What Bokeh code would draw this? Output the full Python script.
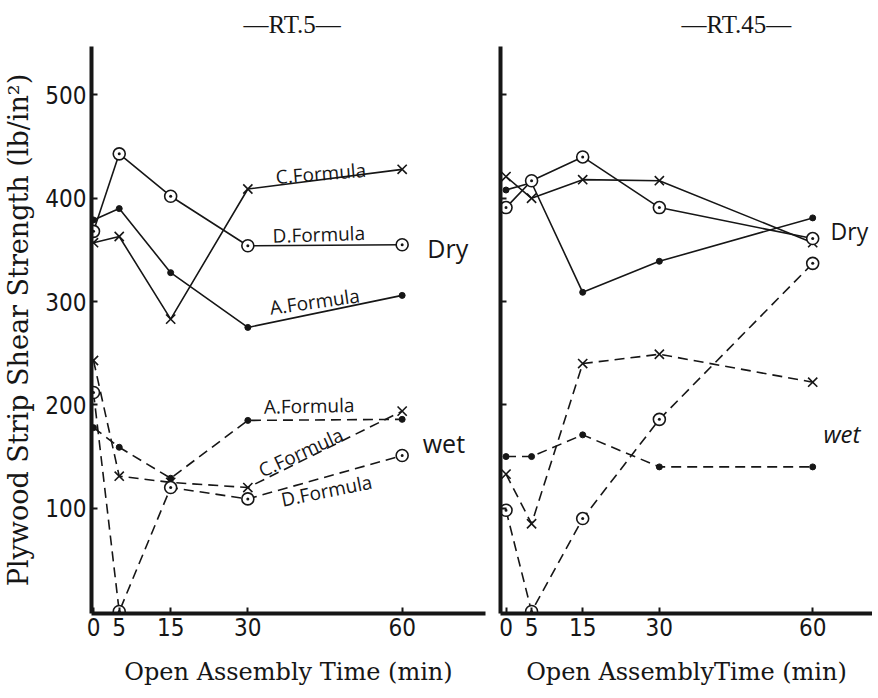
from bokeh.plotting import figure
from bokeh.layouts import row
from bokeh.models import FixedTicker, ColumnDataSource
from bokeh.core.properties import value
from bokeh.embed import file_html
from bokeh.resources import INLINE

# ---------------- data ----------------
times = [0, 5, 15, 30, 60]
x_ticks = [0, 5, 15, 30, 60]
y_ticks = [100, 200, 300, 400, 500]

# RT.5 panel
rt5_dry_A = [379, 390, 328, 275, 306]
rt5_dry_C = [357, 363, 283, 409, 428]
rt5_dry_D = [368, 443, 402, 354, 355]
rt5_wet_A = [178, 159, 129, 185, 186]
rt5_wet_C = [243, 131, 125, 120, 194]
rt5_wet_D = [212, 0, 120, 109, 151]

# RT.45 panel
rt45_dry_A = [408, 415, 309, 339, 381]
rt45_dry_C = [421, 400, 418, 417, 357]
rt45_dry_D = [391, 417, 440, 391, 361]
rt45_wet_A = [150, 150, 171, 140, 140]
rt45_wet_C = [133, 85, 240, 249, 222]
rt45_wet_D = [98, 0, 90, 186, 337]

INK = "#161616"
TICK_FONT = "Liberation Sans Narrow, DejaVu Sans Condensed, sans-serif"
SERIF = "DejaVu Serif"
HAND = "Open Sans"
DASH = "10 6"


def make_panel(width, x_range, border_left, border_right, title, title_offset,
               xlabel, ylabel, show_ylabels):
    p = figure(width=width, height=692, x_range=x_range, y_range=(-1.9, 546.9),
               output_backend="svg", toolbar_location=None,
               min_border_left=border_left, min_border_right=border_right,
               min_border_top=45, min_border_bottom=79)
    p.grid.visible = False
    p.outline_line_color = None
    p.background_fill_color = "white"
    p.border_fill_color = "white"
    p.title.text = title
    p.title.align = "left"
    p.title.offset = title_offset
    p.title.text_font = "Liberation Serif"
    p.title.text_font_size = "25px"
    p.title.text_font_style = "normal"
    p.title.text_color = INK
    p.title.standoff = 17
    for ax in (p.xaxis[0], p.yaxis[0]):
        ax.axis_line_width = 4
        ax.axis_line_color = INK
        ax.major_tick_in = 6
        ax.major_tick_out = 0
        ax.major_tick_line_width = 2
        ax.major_tick_line_color = INK
        ax.minor_tick_line_color = None
        ax.major_label_text_font = TICK_FONT
        ax.major_label_text_font_size = "24px"
        ax.major_label_text_color = INK
        ax.axis_label_text_font = SERIF
        ax.axis_label_text_font_style = "normal"
        ax.axis_label_text_color = INK
    p.xaxis.ticker = FixedTicker(ticks=x_ticks)
    p.yaxis.ticker = FixedTicker(ticks=y_ticks)
    p.xaxis.axis_label = xlabel
    p.xaxis.axis_label_text_font_size = "24px"
    p.xaxis.major_label_standoff = 4
    p.xaxis.axis_label_standoff = 19
    if show_ylabels:
        p.yaxis.axis_label = ylabel
        p.yaxis.axis_label_text_font_size = "27px"
        p.yaxis.major_label_standoff = 5
        p.yaxis.axis_label_standoff = 8
    else:
        p.yaxis.major_label_overrides = {t: "" for t in y_ticks}
        p.yaxis.major_label_standoff = 0
    return p


def draw_series(p, ys, marker, dashed):
    dash = DASH if dashed else "solid"
    p.line(times, ys, line_color=INK, line_width=1.6, line_dash=dash)
    if marker == "x":
        p.scatter(times, ys, marker="x", size=13, line_color=INK, line_width=1.6)
    elif marker == "circle_dot":
        p.scatter(times, ys, marker="circle_dot", size=12, line_color=INK,
                  fill_color="white", line_width=1.6)
    else:
        p.scatter(times, ys, marker="circle", size=6, line_color=INK,
                  fill_color=INK, line_width=1)


def add_texts(p, xs, ys, texts, angles, size, align, style="normal"):
    src = ColumnDataSource(dict(x=xs, y=ys, text=texts, angle=angles))
    p.text(x="x", y="y", text="text", angle="angle", source=src,
           text_font=value(HAND), text_font_size=size, text_color=INK,
           text_align=align, text_baseline="middle", text_font_style=style)


# ---------------- left panel: RT.5 ----------------
p1 = make_panel(495, (-0.39, 76.2), 90, 10, "\u2014RT.5\u2014", 152,
                "Open Assembly Time (min)",
                "Plywood Strip Shear Strength (lb/in\u00b2)", True)
draw_series(p1, rt5_dry_A, "dot", False)
draw_series(p1, rt5_dry_C, "x", False)
draw_series(p1, rt5_dry_D, "circle_dot", False)
draw_series(p1, rt5_wet_A, "dot", True)
draw_series(p1, rt5_wet_C, "x", True)
draw_series(p1, rt5_wet_D, "circle_dot", True)

add_texts(p1, [44.2, 43.8, 43.0, 41.9, 40.3, 45.3],
          [424, 365, 300, 199, 154, 117],
          ["C.Formula", "D.Formula", "A.Formula", "A.Formula", "C.Formula", "D.Formula"],
          [0.08, 0.03, 0.14, 0.02, 0.43, 0.2], "19px", "center")
add_texts(p1, [64.9, 64.0], [352, 163], ["Dry", "wet"], [0, 0], "25px", "left")

# ---------------- right panel: RT.45 ----------------
p2 = make_panel(377, (-1.08, 71.7), 5, 0, "\u2014RT.45\u2014", 181,
                "Open AssemblyTime (min)", "", False)
draw_series(p2, rt45_dry_A, "dot", False)
draw_series(p2, rt45_dry_C, "x", False)
draw_series(p2, rt45_dry_D, "circle_dot", False)
draw_series(p2, rt45_wet_A, "dot", True)
draw_series(p2, rt45_wet_C, "x", True)
draw_series(p2, rt45_wet_D, "circle_dot", True)

add_texts(p2, [63.5], [368], ["Dry"], [0], "23px", "left")
add_texts(p2, [62.1], [172], ["wet"], [0], "24px", "left", "italic")

layout = row(p1, p2)
open("out.html", "w").write(file_html(layout, INLINE))
